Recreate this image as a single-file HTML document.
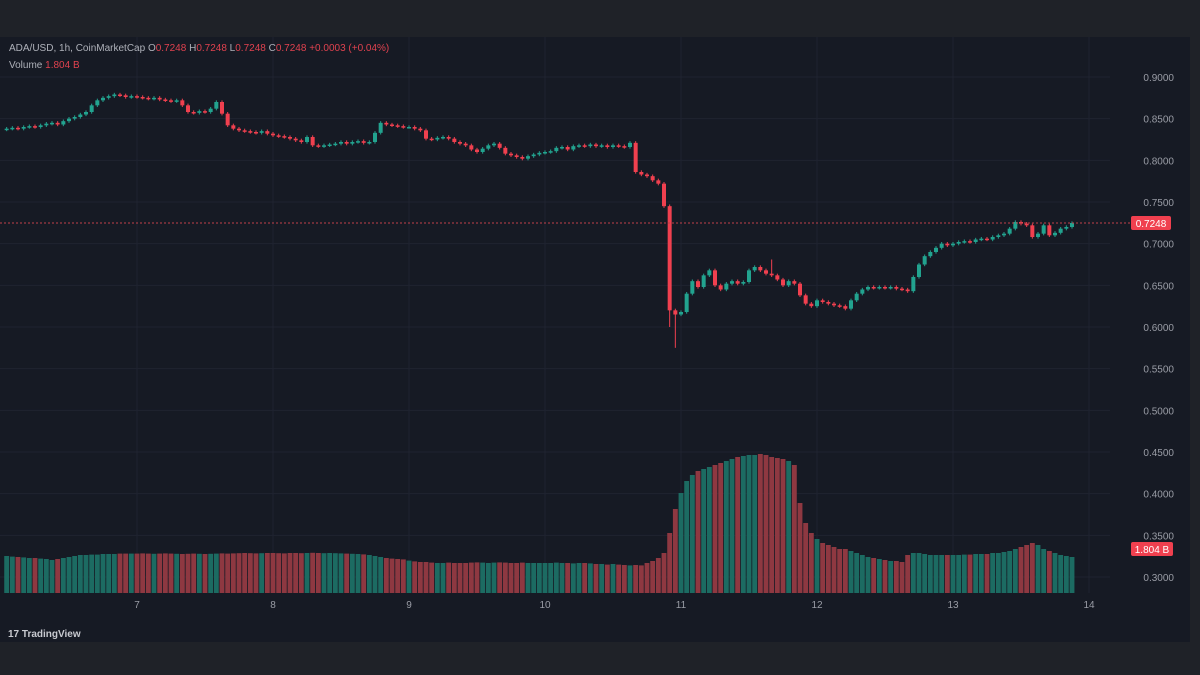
<!DOCTYPE html>
<html><head><meta charset="utf-8"><style>
html,body{margin:0;padding:0;background:#1f2228;width:1200px;height:675px;overflow:hidden;font-family:"Liberation Sans",sans-serif}
</style></head><body>
<svg id="chart" width="1200" height="675" xmlns="http://www.w3.org/2000/svg">
<rect x="0" y="0" width="1200" height="675" fill="#1f2228"/>
<rect x="0" y="37" width="1190" height="605" fill="#161a24"/>
<g id="grid"></g>
<g id="vol"></g>
<g id="candles"></g>
<g id="axes"></g>
<text x="9" y="51" font-size="10" fill="#aeb1b9">ADA/USD, 1h, CoinMarketCap  O<tspan fill="#e0424f">0.7248</tspan>  H<tspan fill="#e0424f">0.7248</tspan>  L<tspan fill="#e0424f">0.7248</tspan>  C<tspan fill="#e0424f">0.7248  +0.0003 (+0.04%)</tspan></text>
<text x="9" y="68" font-size="10" fill="#aeb1b9">Volume  <tspan fill="#e0424f">1.804 B</tspan></text>
<text x="8" y="637" font-size="10" font-weight="bold" fill="#c8cad0">17 TradingView</text>
</svg>
<script>
const closes=[0.838,0.839,0.838,0.840,0.841,0.840,0.842,0.844,0.845,0.843,0.847,0.850,0.852,0.855,0.858,0.866,0.872,0.875,0.877,0.879,0.878,0.876,0.877,
0.876,0.875,0.874,0.875,0.873,0.872,0.871,0.872,0.866,0.858,0.857,0.859,0.858,0.862,0.870,0.856,0.842,0.838,0.836,0.835,0.834,0.833,0.835,0.832,
0.830,0.829,0.828,0.826,0.824,0.822,0.828,0.818,0.817,0.818,0.819,0.820,0.822,0.820,0.822,0.823,0.821,0.822,0.833,0.845,0.843,0.842,0.841,0.840,
0.840,0.838,0.836,0.826,0.825,0.827,0.828,0.826,0.822,0.820,0.818,0.813,0.810,0.814,0.818,0.820,0.815,0.808,0.806,0.804,0.802,0.805,0.807,0.809,
0.810,0.811,0.815,0.816,0.813,0.817,0.818,0.817,0.819,0.817,0.818,0.816,0.818,0.817,0.816,0.821,0.786,0.783,0.781,0.776,0.772,0.745,0.620,0.615,
0.618,0.640,0.655,0.648,0.662,0.668,0.650,0.645,0.652,0.655,0.652,0.654,0.668,0.672,0.668,0.664,0.662,0.657,0.650,0.655,0.652,0.638,0.628,0.625,
0.632,0.630,0.628,0.626,0.625,0.622,0.632,0.640,0.645,0.648,0.647,0.648,0.647,0.648,0.646,0.645,0.643,0.660,0.675,0.685,0.690,0.695,0.700,0.698,
0.700,0.702,0.703,0.702,0.705,0.706,0.705,0.708,0.710,0.712,0.718,0.726,0.724,0.722,0.708,0.712,0.722,0.710,0.713,0.718,0.720,0.7248];
const volumes=[1.85,1.82,1.8,1.78,1.75,1.75,1.72,1.7,1.65,1.7,1.75,1.8,1.85,1.9,1.9,1.92,1.92,1.95,1.95,1.95,1.97,1.97,1.97,
1.97,1.98,1.97,1.96,1.97,1.98,1.97,1.96,1.95,1.96,1.97,1.96,1.95,1.96,1.97,1.98,1.97,1.98,1.99,2.0,1.99,1.98,1.99,2.0,
2.0,1.99,1.98,2.0,2.0,1.99,2.0,2.01,2.0,1.99,2.0,1.99,1.98,1.97,1.96,1.95,1.93,1.9,1.85,1.8,1.75,1.72,1.7,1.68,
1.62,1.58,1.55,1.55,1.52,1.5,1.5,1.52,1.5,1.5,1.5,1.52,1.53,1.52,1.5,1.52,1.53,1.52,1.5,1.5,1.52,1.5,1.5,1.5,
1.5,1.5,1.52,1.5,1.5,1.48,1.5,1.5,1.48,1.45,1.45,1.42,1.45,1.42,1.4,1.38,1.4,1.38,1.5,1.6,1.75,2.0,3.0,4.2,
5.0,5.6,5.9,6.1,6.2,6.3,6.4,6.5,6.6,6.7,6.8,6.85,6.9,6.9,6.95,6.9,6.8,6.75,6.7,6.6,6.4,4.5,3.5,3.0,
2.7,2.5,2.4,2.3,2.2,2.2,2.1,2.0,1.9,1.8,1.75,1.7,1.65,1.6,1.6,1.55,1.9,2.0,2.0,1.95,1.9,1.9,1.9,1.9,
1.9,1.9,1.92,1.92,1.95,1.95,1.95,2.0,2.0,2.05,2.1,2.2,2.3,2.4,2.5,2.4,2.2,2.1,2.0,1.9,1.85,1.8];
const wickLows=[[118,0.575],[117,0.600]];
const wickHighs=[[135,0.681],[37,0.872]];
const priceTicks=[0.9,0.85,0.8,0.75,0.7,0.65,0.6,0.55,0.5,0.45,0.4,0.35,0.3];
const dayTicks=[7,8,9,10,11,12,13,14];
const firstDay=6+1/24, lastPrice=0.7248, lastVolume="1.804 B";

const NS="http://www.w3.org/2000/svg";
const yP=p=>77+(0.9-p)*(500/0.6);
const xD=d=>137+(d-7)*136;
const yV=v=>593-v*20;
function mk(tag,attrs,parent){const e=document.createElementNS(NS,tag);for(const k in attrs)e.setAttribute(k,attrs[k]);parent.appendChild(e);return e;}
const grid=document.getElementById('grid'),axes=document.getElementById('axes'),cg=document.getElementById('candles'),vg=document.getElementById('vol');
priceTicks.forEach(p=>{
  const l=mk('line',{x1:0,x2:1110,y1:yP(p),y2:yP(p),stroke:'#1f2330','stroke-width':1},grid);
  
  
  const t=mk('text',{x:1174,y:yP(p)+4,'font-size':10,fill:'#9a9da6','text-anchor':'end'},axes);
  t.textContent=p.toFixed(4);
  
  
});
dayTicks.forEach(d=>{
  const l=mk('line',{x1:xD(d),x2:xD(d),y1:37,y2:593,stroke:'#1f2330','stroke-width':1},grid);
  
  
  const t=mk('text',{x:xD(d),y:608,'font-size':10,fill:'#9a9da6','text-anchor':'middle'},axes);
  t.textContent=String(d);
  
  
});
const step=136/24;
closes.forEach((c,i)=>{
  const o=i===0?0.837:closes[i-1];
  let hi=Math.max(o,c)+0.002,lo=Math.min(o,c)-0.002;
  wickLows.forEach(w=>{if(w[0]===i)lo=w[1];});
  wickHighs.forEach(w=>{if(w[0]===i)hi=w[1];});
  const x=xD(firstDay+i/24);
  const up=c>=o;
  const col=up?'#22a38f':'#f0404f';
  const vb=mk('rect',{x:x-step/2+0.4,y:yV(volumes[i]),width:step-0.8,height:593-yV(volumes[i]),fill:up?'#1c6b62':'#8e3841'},vg);
  
  
  const w=mk('line',{x1:x,x2:x,y1:yP(hi),y2:yP(lo),stroke:col,'stroke-width':1},cg);
  
  
  const top=yP(Math.max(o,c)),h=Math.max(1.5,yP(Math.min(o,c))-top);
  const b=mk('rect',{x:x-2,y:top,width:4,height:h,fill:col},cg);
  
  
});
const pl=mk('line',{x1:0,x2:1130,y1:yP(lastPrice),y2:yP(lastPrice),stroke:'#c0404a','stroke-width':1,'stroke-dasharray':'2 2'},axes);


const pb=mk('rect',{x:1131,y:yP(lastPrice)-7,width:40,height:14,rx:2,fill:'#f0404f'},axes);


const pt=mk('text',{x:1151,y:yP(lastPrice)+4,'font-size':10,fill:'#fff','text-anchor':'middle'},axes);
pt.textContent=lastPrice.toFixed(4);


const vbx=mk('rect',{x:1131,y:542,width:42,height:14,rx:2,fill:'#f0404f'},axes);


const vt=mk('text',{x:1152,y:553,'font-size':10,fill:'#fff','text-anchor':'middle'},axes);
vt.textContent=lastVolume;


</script>
</body></html>
